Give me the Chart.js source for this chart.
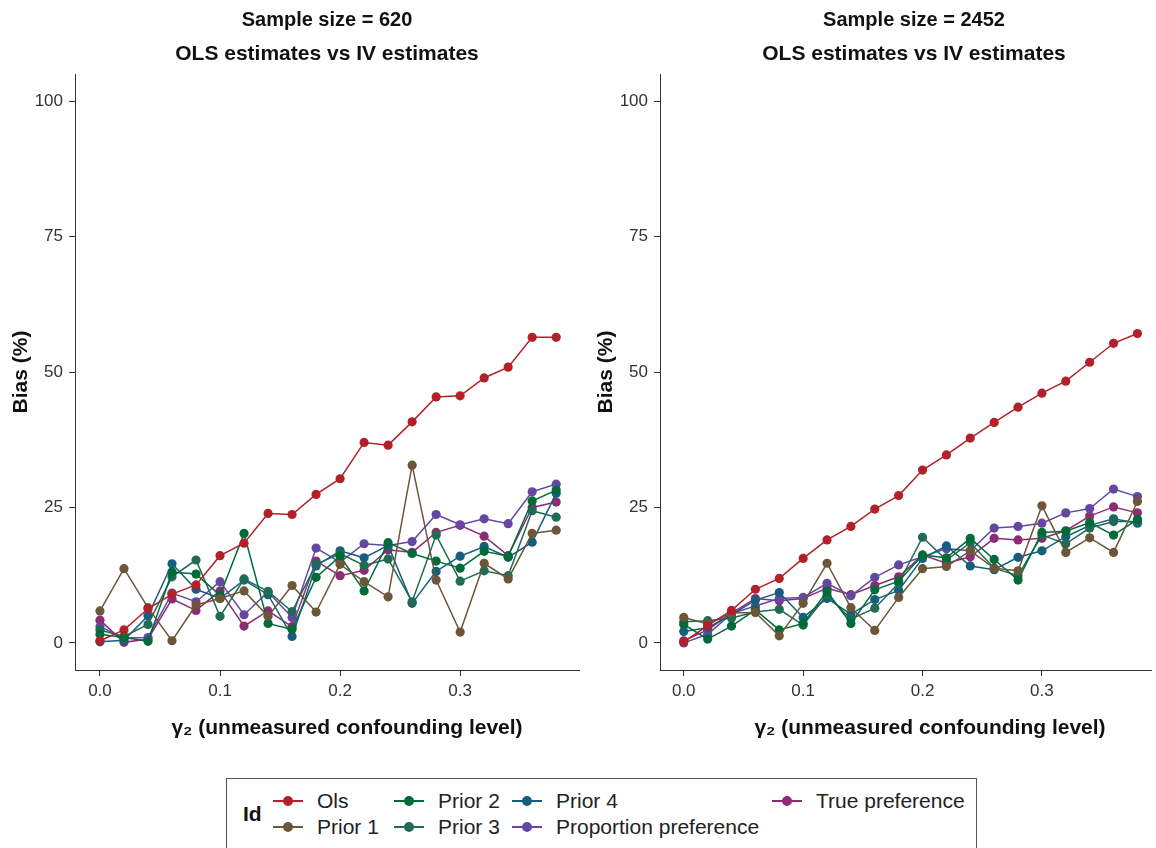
<!DOCTYPE html>
<html>
<head>
<meta charset="utf-8">
<script src="https://cdn.jsdelivr.net/npm/chart.js@4.4.0/dist/chart.umd.min.js"></script>
<style>
  body { margin: 0; background: #fff; width: 1156px; height: 848px; overflow: hidden; position: relative;
         font-family: "Liberation Sans", Arial, sans-serif; }
  canvas { position: absolute; top: 0; }
  #left { left: 0; }
  #right { left: 585px; }
  #legend { position: absolute; left: 226px; top: 778px; width: 751px; height: 90px;
            border: 1px solid #555; box-sizing: border-box; }
  #legend .title { position: absolute; left: 16px; top: 23px; font-weight: bold; font-size: 21px; line-height: 24px; color: #111; }
  .item { position: absolute; height: 20px; font-size: 21px; color: #222; white-space: nowrap; }
  .item .sym { position: absolute; left: 0; top: 9px; width: 30px; height: 2px; }
  .item .dot { position: absolute; left: 10px; top: -4px; width: 10px; height: 10px; border-radius: 50%; }
  .item .lab { position: absolute; left: 44px; top: -2px; line-height: 24px; }
</style>
</head>
<body>
<canvas id="left" width="585" height="745"></canvas>
<canvas id="right" width="571" height="745"></canvas>
<div id="legend"><div class="title">Id</div></div>
<script>
// x values (gamma_2) and axis ticks
const gammaLevels = [0.00, 0.02, 0.04, 0.06, 0.08, 0.10, 0.12, 0.14, 0.16, 0.18,
                     0.20, 0.22, 0.24, 0.26, 0.28, 0.30, 0.32, 0.34, 0.36, 0.38];
const xTicks = [0.0, 0.1, 0.2, 0.3];
const yTicks = [0, 25, 50, 75, 100];

const seriesNames = ['Ols', 'Prior 1', 'Prior 2', 'Prior 3', 'Prior 4', 'Proportion preference', 'True preference'];
const seriesColors = ['#B2202A', '#6B5637', '#006B38', '#1F6B55', '#155E7E', '#6547A1', '#8E2C73'];

// Sample size = 620
const ols620    = [0.4, 2.4, 6.3, 9.0, 10.7, 16.1, 18.4, 23.9, 23.7, 27.4, 30.3, 37.0, 36.5, 40.8, 45.4, 45.6, 48.9, 50.9, 56.4, 56.4];
const prior1_620 = [5.9, 13.7, 6.5, 0.4, 7.0, 8.2, 9.6, 4.9, 10.6, 5.7, 14.5, 11.3, 8.5, 32.8, 11.6, 2.0, 14.7, 11.8, 20.2, 20.8];
const prior2_620 = [1.6, 1.0, 0.3, 13.1, 12.7, 8.8, 20.2, 3.6, 2.5, 12.1, 16.0, 9.6, 18.5, 16.5, 15.1, 13.8, 16.9, 16.0, 26.2, 28.2];
const prior3_620 = [2.4, 1.2, 3.4, 12.2, 15.3, 4.9, 11.8, 9.5, 5.8, 14.5, 16.5, 14.3, 15.5, 7.6, 19.9, 11.4, 13.3, 12.4, 24.4, 23.2];
const prior4_620 = [0.2, 0.5, 5.0, 14.6, 9.9, 8.2, 11.6, 8.9, 1.2, 14.2, 17.0, 15.7, 18.0, 7.3, 13.2, 16.0, 17.8, 15.8, 18.6, 27.6];
const propPref620 = [3.0, 0.9, 1.0, 9.2, 7.6, 11.3, 5.2, 9.4, 4.7, 17.5, 14.9, 18.3, 18.0, 18.7, 23.7, 21.8, 22.9, 22.0, 27.9, 29.3];
const truePref620 = [4.2, 0.1, 0.7, 8.1, 6.0, 9.6, 3.1, 5.9, 3.0, 15.1, 12.4, 13.4, 17.2, 16.7, 20.4, 21.7, 19.7, 16.1, 25.0, 26.0];

// Sample size = 2452
const ols2452    = [0.2, 3.2, 6.0, 9.9, 11.9, 15.6, 19.0, 21.5, 24.7, 27.2, 31.9, 34.7, 37.8, 40.7, 43.5, 46.1, 48.3, 51.8, 55.3, 57.1];
const prior1_2452 = [4.7, 3.5, 5.5, 5.6, 1.3, 7.3, 14.7, 6.5, 2.3, 8.4, 13.7, 14.1, 17.0, 13.8, 13.3, 25.3, 16.7, 19.4, 16.7, 26.1];
const prior2_2452 = [3.4, 0.7, 3.1, 6.1, 2.4, 3.6, 9.5, 3.6, 9.8, 11.4, 16.2, 15.7, 19.3, 15.4, 11.6, 20.4, 20.6, 22.2, 19.9, 22.8];
const prior3_2452 = [3.9, 4.1, 4.6, 5.7, 6.2, 3.3, 8.8, 4.4, 6.4, 11.0, 19.5, 15.3, 18.5, 13.8, 12.4, 19.9, 18.3, 21.2, 22.4, 22.4];
const prior4_2452 = [2.1, 2.8, 5.2, 7.9, 9.3, 4.7, 8.2, 5.3, 8.0, 9.7, 15.6, 17.9, 14.2, 13.5, 15.8, 17.0, 19.6, 21.7, 22.9, 22.1];
const propPref2452 = [0.0, 1.6, 5.4, 6.8, 8.2, 8.4, 11.0, 8.7, 12.1, 14.4, 15.9, 17.4, 17.0, 21.2, 21.5, 22.1, 24.0, 24.8, 28.4, 27.0];
const truePref2452 = [0.4, 2.4, 5.5, 8.2, 7.8, 8.2, 10.1, 8.9, 10.6, 12.2, 16.2, 14.7, 15.9, 19.3, 19.0, 19.3, 20.7, 23.4, 25.1, 24.0];

const FONT = '"Liberation Sans", Arial, sans-serif';
const AXIS = '#333333';

// two-line panel title above the plot and the x-axis title below it
const panelText = {
  id: 'panelText',
  afterDraw(chart, args, opts) {
    const ctx = chart.ctx;
    ctx.save();
    ctx.fillStyle = '#111';
    ctx.textAlign = 'center';
    ctx.textBaseline = 'middle';
    ctx.font = 'bold 20px ' + FONT;
    ctx.fillText(opts.lines[0], opts.x, 20);
    ctx.font = 'bold 21px ' + FONT;
    ctx.fillText(opts.lines[1], opts.x, 54);
    ctx.fillText('γ₂ (unmeasured confounding level)', opts.xTitleX, 728);
    ctx.restore();
  }
};

function makeDatasets(series) {
  return series.map((vals, i) => ({
    label: seriesNames[i],
    data: vals.map((v, j) => ({ x: gammaLevels[j], y: v })),
    borderColor: seriesColors[i],
    backgroundColor: seriesColors[i],
    borderWidth: 1.5,
    pointRadius: 4.6,
    pointBorderWidth: 0,
    pointHoverRadius: 4.6,
    tension: 0
  }));
}

function makeChart(id, series, titleLines, titleX, xTitleX, xMin, xMax, padRight) {
  new Chart(document.getElementById(id), {
    type: 'line',
    data: { datasets: makeDatasets(series) },
    options: {
      responsive: false,
      animation: false,
      layout: { padding: { top: 74, left: 0, right: padRight, bottom: 0 } },
      plugins: {
        legend: { display: false },
        tooltip: { enabled: false },
        panelText: { lines: titleLines, x: titleX, xTitleX: xTitleX }
      },
      scales: {
        x: {
          type: 'linear',
          min: xMin, max: xMax,
          afterBuildTicks: s => { s.ticks = xTicks.map(v => ({ value: v })); },
          afterFit: s => { s.height = 75; },
          ticks: { color: AXIS, font: { family: FONT, size: 17 }, padding: 5,
                   callback: v => v.toFixed(1), maxRotation: 0 },
          grid: { drawOnChartArea: false, tickLength: 6, color: AXIS, tickColor: AXIS },
          border: { display: true, color: AXIS, width: 1 }
        },
        y: {
          min: -5, max: 105,
          afterBuildTicks: s => { s.ticks = yTicks.map(v => ({ value: v })); },
          afterFit: s => { s.width = 75; },
          ticks: { color: AXIS, font: { family: FONT, size: 17 }, padding: 6 },
          grid: { drawOnChartArea: false, tickLength: 6, color: AXIS, tickColor: AXIS },
          border: { display: true, color: AXIS, width: 1 },
          title: { display: true, text: 'Bias (%)', color: '#111',
                   font: { family: FONT, size: 21, weight: 'bold' }, padding: { top: 9, bottom: 0 } }
        }
      }
    },
    plugins: [panelText]
  });
}

makeChart('left',
  [ols620, prior1_620, prior2_620, prior3_620, prior4_620, propPref620, truePref620],
  ['Sample size = 620', 'OLS estimates vs IV estimates'], 327, 347, -0.0208, 0.399, 6);

makeChart('right',
  [ols2452, prior1_2452, prior2_2452, prior3_2452, prior4_2452, propPref2452, truePref2452],
  ['Sample size = 2452', 'OLS estimates vs IV estimates'], 329, 345, -0.0199, 0.3917, 0);

// legend: two rows, filled column by column
const legendCols = [46, 167, 285, 545];
const legendRows = [12, 38];
const legend = document.getElementById('legend');
seriesNames.forEach((name, i) => {
  const col = Math.floor(i / 2), row = i % 2;
  const el = document.createElement('div');
  el.className = 'item';
  el.style.left = legendCols[col] + 'px';
  el.style.top = legendRows[row] + 'px';
  el.innerHTML = '<div class="sym" style="background:' + seriesColors[i] + '">' +
    '<div class="dot" style="background:' + seriesColors[i] + '"></div></div>' +
    '<span class="lab">' + name + '</span>';
  legend.appendChild(el);
});
</script>
</body>
</html>
